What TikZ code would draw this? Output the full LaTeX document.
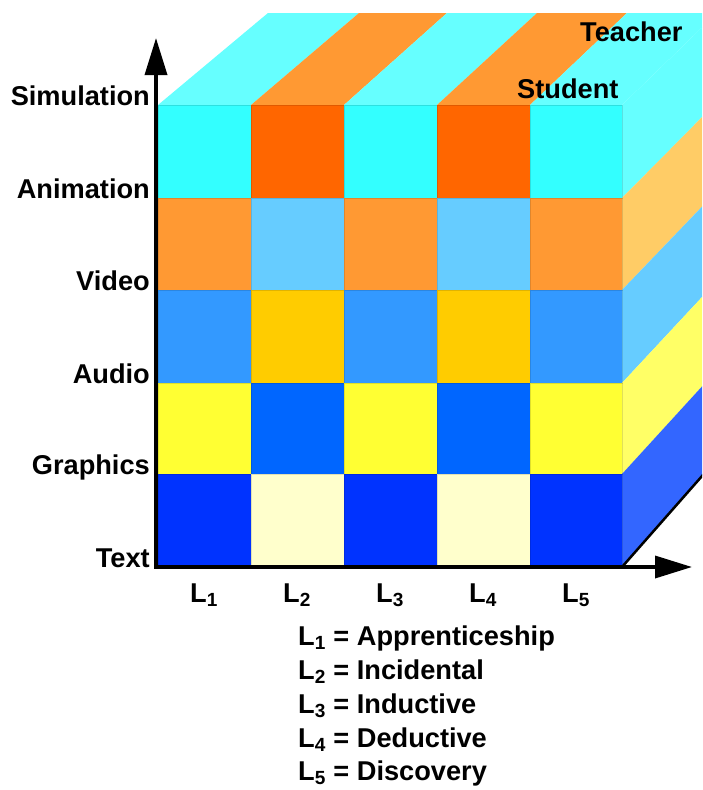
\documentclass[tikz,border=0pt]{standalone}
\usepackage{fontspec}
\setmainfont{Liberation Sans}
\usetikzlibrary{arrows.meta}

% front face
\definecolor{frontcyan}{HTML}{33FFFF}
\definecolor{frontred}{HTML}{FF6600}
\definecolor{orange}{HTML}{FF9933}
\definecolor{lightblue}{HTML}{66CCFF}
\definecolor{midblue}{HTML}{3399FF}
\definecolor{gold}{HTML}{FFCC00}
\definecolor{brightyellow}{HTML}{FFFF33}
\definecolor{royal}{HTML}{0066FF}
\definecolor{navy}{HTML}{0033FF}
\definecolor{cream}{HTML}{FFFFCC}
% top and side faces
\definecolor{topcyan}{HTML}{66FFFF}
\definecolor{sideorange}{HTML}{FFCC66}
\definecolor{sideblue}{HTML}{66CCFF}
\definecolor{sideyellow}{HTML}{FFFF66}
\definecolor{sidenavy}{HTML}{3366FF}

\begin{document}
\begin{tikzpicture}[x=1pt,y=-1pt,
  lbl/.style={font=\fontsize{27.2}{31}\selectfont\bfseries, inner sep=0pt},
  axis/.style={line width=3.5pt, -{Triangle[length=37pt,width=22pt]}},
  cell/.style={draw=black, draw opacity=0.12, line width=0.7pt}]

\useasboundingbox (0,0) rectangle (702,790);
\clip (0,0) rectangle (702,790);

% --- Top face (Teacher / Student stripes) ---
\fill[topcyan] (158,105) -- (251,105) -- (359,13) -- (268,13) -- cycle;
\fill[orange] (251,105) -- (344,105) -- (447,13) -- (359,13) -- cycle;
\fill[topcyan] (344,105) -- (437,105) -- (537,13) -- (447,13) -- cycle;
\fill[orange] (437,105) -- (530,105) -- (627,13) -- (537,13) -- cycle;
\fill[topcyan] (530,105) -- (622,105) -- (717,13) -- (627,13) -- cycle;

% --- Right face ---
\fill[topcyan] (622,105) -- (622,198) -- (717,102) -- (717,13) -- cycle;
\fill[sideorange] (622,198) -- (622,290) -- (717,191) -- (717,102) -- cycle;
\fill[sideblue] (622,290) -- (622,383) -- (717,281) -- (717,191) -- cycle;
\fill[sideyellow] (622,383) -- (622,474) -- (717,370) -- (717,281) -- cycle;
\fill[sidenavy] (622,474) -- (622,567) -- (717,459) -- (717,370) -- cycle;
\draw[line width=2.5pt] (622,567) -- (717,459);

% --- Front face ---
% Simulation / Animation
\filldraw[cell,fill=frontcyan] (158,105) rectangle (251,198);
\filldraw[cell,fill=frontred] (251,105) rectangle (344,198);
\filldraw[cell,fill=frontcyan] (344,105) rectangle (437,198);
\filldraw[cell,fill=frontred] (437,105) rectangle (530,198);
\filldraw[cell,fill=frontcyan] (530,105) rectangle (622,198);
% Animation / Video
\filldraw[cell,fill=orange] (158,198) rectangle (251,290);
\filldraw[cell,fill=lightblue] (251,198) rectangle (344,290);
\filldraw[cell,fill=orange] (344,198) rectangle (437,290);
\filldraw[cell,fill=lightblue] (437,198) rectangle (530,290);
\filldraw[cell,fill=orange] (530,198) rectangle (622,290);
% Video / Audio
\filldraw[cell,fill=midblue] (158,290) rectangle (251,383);
\filldraw[cell,fill=gold] (251,290) rectangle (344,383);
\filldraw[cell,fill=midblue] (344,290) rectangle (437,383);
\filldraw[cell,fill=gold] (437,290) rectangle (530,383);
\filldraw[cell,fill=midblue] (530,290) rectangle (622,383);
% Audio / Graphics
\filldraw[cell,fill=brightyellow] (158,383) rectangle (251,474);
\filldraw[cell,fill=royal] (251,383) rectangle (344,474);
\filldraw[cell,fill=brightyellow] (344,383) rectangle (437,474);
\filldraw[cell,fill=royal] (437,383) rectangle (530,474);
\filldraw[cell,fill=brightyellow] (530,383) rectangle (622,474);
% Graphics / Text
\filldraw[cell,fill=navy] (158,474) rectangle (251,567);
\filldraw[cell,fill=cream] (251,474) rectangle (344,567);
\filldraw[cell,fill=navy] (344,474) rectangle (437,567);
\filldraw[cell,fill=cream] (437,474) rectangle (530,567);
\filldraw[cell,fill=navy] (530,474) rectangle (622,567);

% --- Axes ---
\coordinate (origin) at (156,567);
\coordinate (ytip) at (156,38);
\coordinate (xtip) at (692,567);
\draw[axis] (origin) -- (ytip);
\draw[axis] (154,567) -- (xtip);

% Media labels
\node[lbl,anchor=base east] (simulation) at (150,105) {Simulation};
\node[lbl,anchor=base east] (animation) at (150,198) {Animation};
\node[lbl,anchor=base east] (video) at (150,290) {Video};
\node[lbl,anchor=base east] (audio) at (150,383) {Audio};
\node[lbl,anchor=base east] (graphics) at (150,474) {Graphics};
\node[lbl,anchor=base east] (text) at (150,567) {Text};

% Teacher / Student
\node[lbl,anchor=base west] (teacher) at (580,41) {Teacher};
\node[lbl,anchor=base west] (student) at (517,98) {Student};

% Learning styles
\node[lbl,anchor=base] (l1) at (204,602) {L\textsubscript{1}};
\node[lbl,anchor=base] (l2) at (297,602) {L\textsubscript{2}};
\node[lbl,anchor=base] (l3) at (390,602) {L\textsubscript{3}};
\node[lbl,anchor=base] (l4) at (483,602) {L\textsubscript{4}};
\node[lbl,anchor=base] (l5) at (576,602) {L\textsubscript{5}};

% Legend
\node[lbl,anchor=base west] (key1) at (298,645) {L\textsubscript{1} = Apprenticeship};
\node[lbl,anchor=base west] (key2) at (298,679) {L\textsubscript{2} = Incidental};
\node[lbl,anchor=base west] (key3) at (298,713) {L\textsubscript{3} = Inductive};
\node[lbl,anchor=base west] (key4) at (298,747) {L\textsubscript{4} = Deductive};
\node[lbl,anchor=base west] (key5) at (298,780) {L\textsubscript{5} = Discovery};

\end{tikzpicture}
\end{document}
